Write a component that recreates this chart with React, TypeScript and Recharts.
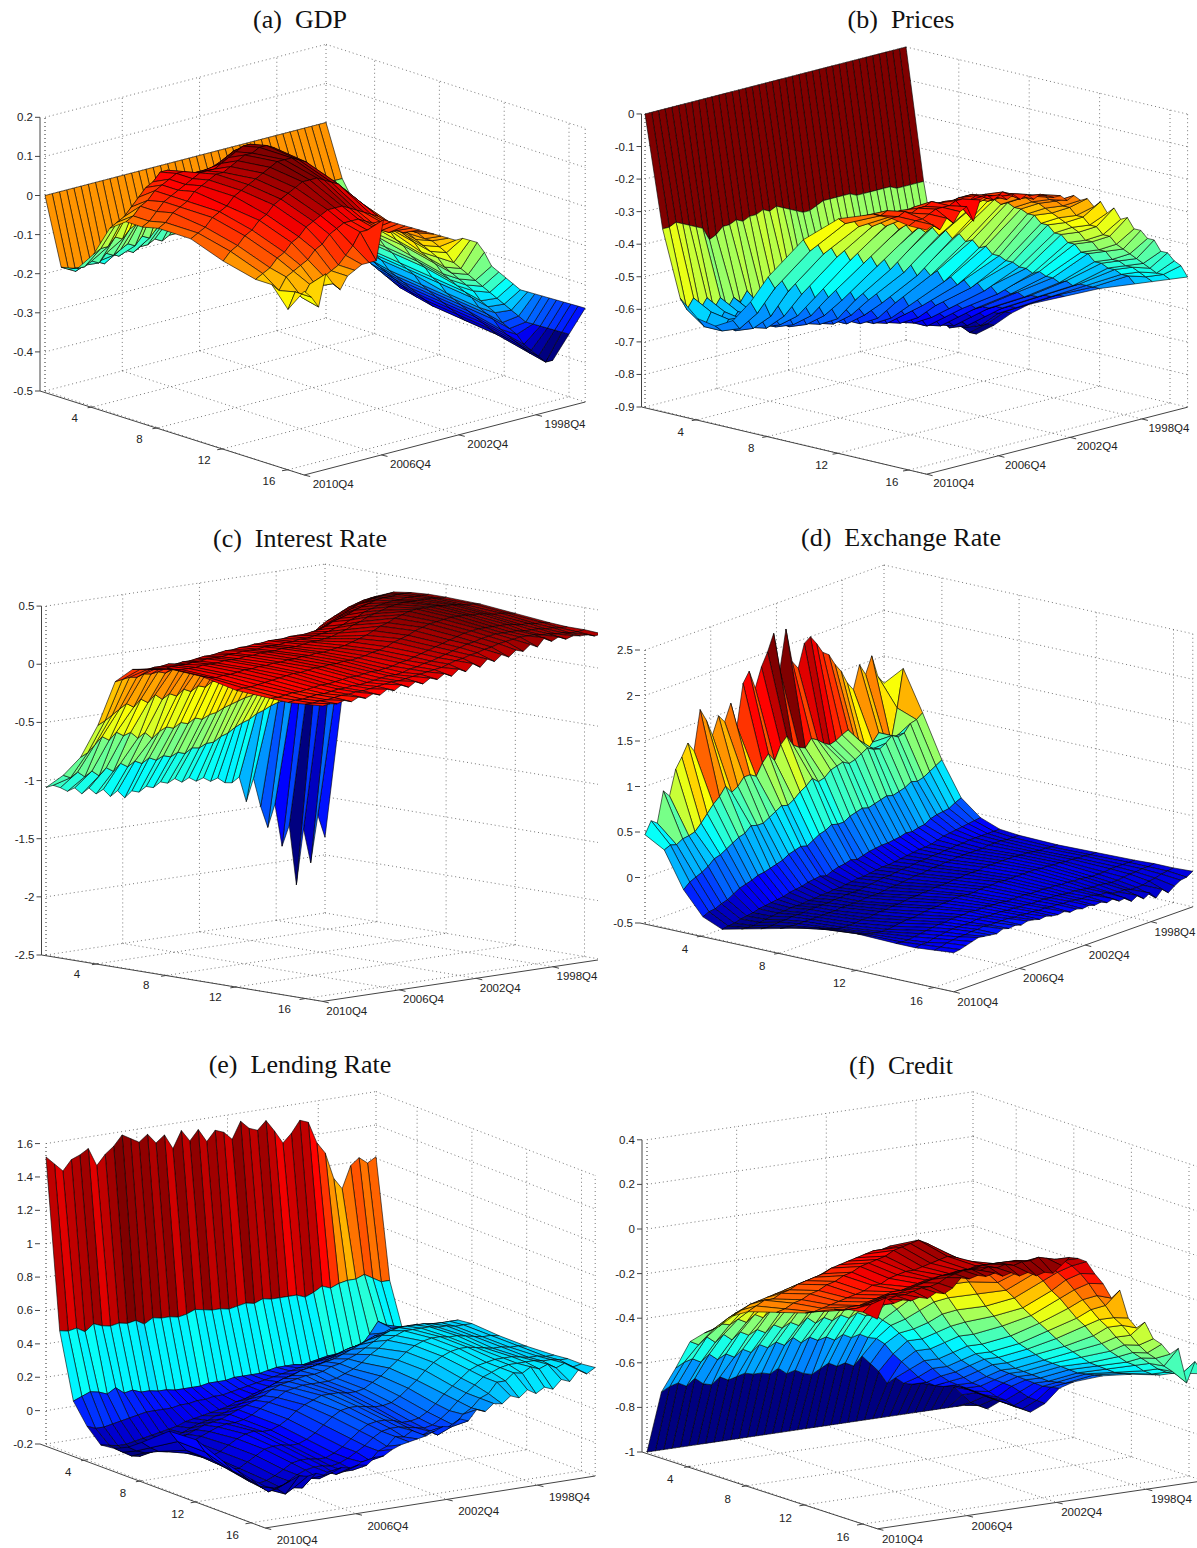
import React from 'react';
import { ScatterChart, Scatter, XAxis, YAxis } from 'recharts';

// horizons kept for each surface, quarters run from 2010Q4 (col 0) back to the oldest (col 39)
const horizons = [1, 2, 3, 4, 5, 6, 7, 8, 10, 12, 14, 15, 16, 17];
const horizonTicks = [4, 8, 12, 16];
const quarterTicks = ['2010Q4', '2006Q4', '2002Q4', '1998Q4'];
const quarterTickPos = [0, 0.275, 0.55, 0.825];
const COLS = 40;

// responses in hundredths, one line per horizon
const gdpZ = [
  [0,0,0,0,0,0,0,0,0,0,0,0,0,0,0,0,0,0,0,0,0,0,0,0,0,0,0,0,0,0,0,0,0,0,0,0,0,0,0,0],
  [-17,-18,-19,-18,-17,-18,-19,-17,-18,-17,-18,-17,-17,-16,-17,-16,-16,-15,-16,-15,-15,-15,-14,-15,-14,-14,-14,-14,-14,-13,-14,-13,-13,-13,-13,-13,-13,-13,-13,-13],
  [-16,-16,-15,-16,-14,-15,-14,-13,-14,-12,-13,-11,-10,-9,-8,-8,-7,-7,-7,-7,-8,-8,-8,-9,-9,-10,-10,-11,-11,-12,-13,-14,-14,-15,-16,-17,-17,-18,-19,-20],
  [-11,-10,-10,-8,-9,-7,-6,-4,-3,-1,0,1,2,2,3,3,3,2,2,1,0,0,-1,-3,-4,-6,-7,-9,-10,-12,-13,-15,-16,-18,-20,-22,-24,-26,-28,-30],
  [-3,-2,-1,1,3,5,6,8,8,6,5,4,4,5,5,6,6,6,5,4,3,2,1,-1,-3,-5,-7,-9,-12,-14,-16,-18,-20,-22,-24,-26,-28,-30,-32,-34],
  [0,1,3,4,6,7,8,9,9,8,8,8,8,9,10,11,11,10,9,8,6,4,2,0,-3,-5,-8,-10,-13,-15,-18,-20,-22,-24,-27,-29,-31,-33,-35,-36],
  [0,1,3,5,6,7,8,9,10,10,10,11,12,13,14,14,13,12,10,8,6,4,1,-1,-4,-6,-9,-11,-14,-17,-19,-21,-24,-26,-28,-30,-32,-34,-36,-37],
  [1,2,4,5,6,8,9,10,11,11,12,13,14,14,15,15,14,12,10,8,5,3,0,-2,-5,-8,-10,-13,-15,-18,-20,-22,-25,-27,-29,-31,-33,-35,-37,-38],
  [1,2,3,5,6,7,9,10,11,12,13,14,15,15,15,14,13,11,9,7,4,2,-1,-4,-6,-9,-11,-14,-16,-19,-21,-23,-26,-28,-30,-32,-34,-36,-38,-39],
  [-2,0,1,3,4,6,7,9,10,11,12,13,13,13,12,11,10,8,6,4,2,0,-3,-5,-8,-10,-13,-15,-17,-20,-22,-25,-27,-29,-31,-33,-35,-37,-39,-40],
  [-4,-3,-2,0,1,3,4,6,7,8,9,9,9,8,7,6,5,4,2,1,-1,-3,-5,-8,-10,-12,-15,-17,-19,-21,-23,-26,-28,-30,-33,-35,-37,-39,-41,-42],
  [-4,-6,-3,-2,-1,0,2,3,5,6,7,7,7,6,5,5,4,3,2,0,-2,-4,-6,-8,-11,-13,-15,-17,-19,-22,-24,-26,-29,-31,-33,-36,-38,-40,-42,-42],
  [-9,-5,-7,-4,-5,-3,-2,-1,1,3,6,6,6,5,4,4,3,3,2,0,-1,-3,-5,-8,-10,-12,-14,-16,-18,-20,-22,-24,-26,-28,-29,-30,-31,-32,-33,-34],
  [-3,-5,-8,0,-3,-5,-2,-1,0,0,0,10,9,8,7,6,5,4,3,2,1,0,0,-1,-2,-5,-9,-11,-13,-15,-17,-18,-19,-20,-21,-22,-23,-24,-25,-26],
];

const pricesZ = [
  [0,0,0,0,0,0,0,0,0,0,0,0,0,0,0,0,0,0,0,0,0,0,0,0,0,0,0,0,0,0,0,0,0,0,0,0,0,0,0,0],
  [-34,-34,-33,-34,-35,-36,-37,-41,-40,-38,-38,-37,-38,-37,-37,-36,-37,-36,-37,-38,-39,-40,-40,-39,-38,-38,-38,-38,-38,-39,-39,-39,-39,-39,-39,-40,-40,-40,-40,-40],
  [-54,-58,-55,-59,-56,-60,-57,-61,-58,-60,-57,-61,-58,-62,-59,-62,-58,-62,-59,-63,-60,-63,-61,-64,-61,-64,-62,-65,-63,-66,-64,-66,-65,-67,-66,-68,-67,-68,-69,-70],
  [-59,-62,-58,-62,-59,-63,-60,-64,-61,-65,-62,-65,-62,-66,-63,-67,-64,-67,-65,-68,-65,-69,-66,-70,-67,-71,-68,-72,-69,-73,-71,-74,-72,-75,-74,-76,-76,-78,-78,-80],
  [-60,-62,-59,-63,-60,-63,-60,-64,-61,-65,-62,-66,-63,-66,-63,-67,-64,-67,-65,-68,-66,-69,-67,-71,-68,-72,-69,-73,-71,-74,-72,-76,-74,-77,-76,-79,-78,-80,-82,-83],
  [-57,-60,-57,-61,-58,-62,-59,-62,-59,-63,-60,-64,-61,-65,-62,-66,-63,-67,-64,-68,-65,-69,-66,-70,-68,-71,-69,-72,-71,-74,-72,-75,-74,-76,-75,-77,-76,-78,-78,-79],
  [-50,-54,-51,-56,-53,-57,-54,-58,-55,-59,-56,-60,-58,-62,-59,-62,-60,-63,-62,-65,-62,-66,-63,-66,-65,-68,-66,-69,-68,-70,-69,-71,-70,-72,-71,-73,-72,-73,-73,-74],
  [-41,-45,-43,-47,-45,-49,-46,-51,-48,-52,-50,-54,-51,-55,-53,-56,-54,-58,-56,-59,-57,-61,-59,-62,-60,-63,-62,-65,-64,-66,-65,-67,-67,-68,-68,-69,-69,-70,-70,-70],
  [-27,-31,-29,-33,-31,-35,-33,-37,-35,-39,-37,-41,-39,-43,-41,-45,-43,-47,-45,-48,-47,-51,-50,-53,-52,-55,-54,-57,-56,-59,-58,-60,-60,-62,-62,-63,-63,-64,-64,-65],
  [-18,-20,-19,-22,-21,-23,-22,-24,-23,-26,-25,-28,-27,-29,-28,-31,-30,-33,-32,-35,-35,-38,-38,-41,-42,-44,-45,-47,-48,-50,-50,-52,-53,-55,-55,-57,-57,-58,-59,-60],
  [-14,-15,-14,-16,-15,-16,-15,-17,-16,-17,-17,-17,-16,-18,-17,-19,-18,-19,-19,-21,-21,-23,-24,-26,-27,-30,-31,-34,-35,-38,-39,-42,-43,-46,-47,-49,-50,-52,-53,-56],
  [-14,-14,-13,-14,-13,-13,-12,-13,-13,-14,-13,-13,-13,-14,-14,-15,-15,-16,-16,-18,-18,-20,-21,-23,-25,-27,-29,-31,-33,-36,-37,-40,-41,-44,-45,-47,-48,-50,-52,-54],
  [-15,-14,-14,-13,-12,-12,-12,-11,-11,-12,-11,-12,-12,-13,-12,-13,-14,-15,-15,-16,-16,-18,-19,-21,-22,-25,-26,-29,-30,-33,-34,-37,-39,-41,-43,-45,-47,-49,-50,-52],
  [-15,-14,-16,-13,-15,-12,-11,-16,-10,-9,-11,-10,-12,-11,-13,-12,-14,-13,-14,-15,-15,-17,-16,-18,-18,-21,-20,-24,-23,-27,-27,-31,-32,-35,-36,-40,-41,-44,-46,-50],
];

const interestZ = [
  [-106,-105,-108,-112,-110,-116,-112,-118,-115,-122,-118,-125,-120,-122,-118,-120,-116,-118,-115,-119,-116,-120,-118,-122,-120,-125,-126,-122,-144,-125,-150,-169,-150,-187,-170,-222,-175,-205,-165,-185],
  [-93,-96,-92,-97,-93,-98,-92,-96,-90,-94,-90,-93,-89,-92,-89,-91,-88,-90,-86,-87,-84,-84,-80,-78,-74,-71,-69,-65,-63,-60,-58,-57,-56,-56,-56,-56,-57,-58,-59,-60],
  [-75,-72,-66,-60,-64,-58,-62,-60,-66,-62,-68,-63,-60,-62,-58,-60,-56,-58,-55,-54,-51,-49,-47,-45,-44,-41,-38,-34,-30,-26,-22,-16,-10,-6,-2,1,4,6,8,10],
  [-45,-42,-38,-34,-30,-34,-28,-32,-26,-31,-27,-30,-25,-28,-24,-26,-22,-23,-20,-19,-18,-16,-15,-13,-12,-10,-8,-5,-2,2,6,11,15,18,21,24,26,28,29,30],
  [-5,-4,-3,-4,-2,-3,-2,-4,-2,-3,-2,-2,-1,-1,0,0,1,1,2,3,3,4,4,5,6,7,8,10,13,15,18,21,24,27,30,31,33,34,35,36],
  [8,7,6,7,7,8,7,8,8,9,10,10,11,12,12,13,13,14,14,15,15,15,16,16,16,17,18,20,23,25,27,30,32,34,36,37,37,38,38,38],
  [11,10,9,10,10,10,11,11,12,12,12,13,13,14,14,14,15,15,15,16,16,17,17,18,19,20,22,24,27,29,32,34,36,37,38,38,39,39,39,39],
  [14,12,11,11,11,12,12,12,13,13,13,14,14,15,15,15,16,16,16,17,18,18,19,20,22,24,27,29,32,34,36,38,39,40,40,40,40,40,39,39],
  [12,10,9,10,10,11,12,12,13,13,14,14,15,15,16,16,17,17,18,19,20,22,24,26,29,32,34,37,39,41,42,42,42,42,41,41,40,39,39,38],
  [5,6,6,7,8,9,10,11,12,12,13,14,14,15,15,16,16,17,18,20,21,23,26,28,30,33,35,37,38,39,40,40,40,39,39,38,37,37,36,35],
  [3,3,4,5,5,6,7,8,8,9,10,11,11,12,13,13,14,15,17,18,20,22,24,26,28,30,32,34,35,36,36,36,36,36,35,34,34,33,33,32],
  [2,3,3,4,5,5,6,7,7,8,8,9,10,11,12,12,13,15,16,18,19,21,23,25,27,29,30,32,33,34,34,34,34,33,33,33,32,32,31,31],
  [3,3,4,4,5,6,6,7,7,8,9,10,11,11,12,13,14,15,16,17,19,21,22,24,25,27,28,30,31,32,33,33,33,32,32,31,31,30,30,31],
  [4,5,4,6,4,7,5,8,6,10,8,12,9,13,10,14,12,16,13,18,15,21,17,23,20,25,22,27,25,30,27,34,30,33,30,32,31,31,29,30],
];

const exchangeZ = [
  [47,60,55,88,80,107,118,131,120,163,149,130,149,140,158,130,175,186,165,186,200,218,175,218,180,170,195,200,190,178,173,160,150,135,125,150,137,155,130,120],
  [35,38,36,40,41,43,50,58,66,72,81,72,76,84,84,80,92,100,90,105,112,100,95,92,100,96,90,86,88,92,95,85,72,64,72,80,70,66,100,141],
  [-4,2,5,8,12,18,20,24,28,32,34,40,38,38,42,46,50,48,52,58,62,68,62,64,70,72,74,70,72,76,80,76,74,78,84,80,82,90,92,97],
  [-29,-26,-25,-22,-20,-16,-12,-10,-8,-5,-4,-2,0,2,6,8,10,8,12,16,18,22,20,20,24,26,28,26,28,30,32,30,32,34,38,36,38,42,46,50],
  [-38,-37,-36,-34,-33,-32,-30,-29,-28,-27,-26,-24,-23,-22,-20,-19,-18,-20,-17,-15,-14,-12,-14,-12,-10,-9,-8,-8,-7,-6,-4,-5,-3,-2,2,4,5,6,10,13],
  [-33,-34,-34,-33,-32,-31,-30,-30,-29,-29,-29,-28,-28,-27,-27,-26,-26,-25,-24,-23,-23,-22,-21,-20,-20,-19,-18,-17,-16,-15,-15,-14,-12,-10,-9,-8,-7,-6,-5,-4],
  [-28,-29,-29,-28,-28,-27,-27,-27,-26,-26,-26,-26,-25,-25,-24,-24,-24,-23,-22,-21,-20,-20,-19,-18,-18,-17,-16,-16,-15,-15,-14,-14,-13,-13,-12,-12,-12,-12,-12,-12],
  [-23,-24,-25,-25,-25,-25,-25,-25,-25,-25,-24,-24,-24,-24,-23,-23,-23,-22,-21,-21,-20,-19,-18,-18,-17,-16,-16,-15,-15,-14,-14,-14,-14,-14,-13,-13,-13,-14,-14,-14],
  [-13,-17,-19,-21,-22,-22,-22,-21,-21,-20,-19,-19,-18,-18,-17,-16,-16,-15,-15,-14,-14,-14,-13,-13,-12,-12,-12,-11,-11,-11,-11,-11,-11,-12,-12,-13,-14,-14,-15,-15],
  [-10,-13,-15,-16,-17,-17,-16,-15,-14,-14,-13,-12,-11,-11,-10,-10,-9,-9,-10,-10,-9,-9,-9,-8,-9,-9,-9,-9,-9,-9,-10,-10,-11,-11,-12,-12,-13,-13,-14,-14],
  [-11,-12,-12,-11,-10,-9,-8,-7,-7,-6,-6,-6,-5,-6,-6,-6,-7,-7,-8,-8,-8,-8,-9,-9,-9,-10,-10,-11,-11,-12,-12,-13,-14,-14,-14,-13,-13,-13,-13,-13],
  [-11,-10,-10,-8,-7,-6,-5,-5,-5,-5,-4,-4,-5,-5,-5,-6,-6,-7,-7,-8,-8,-8,-9,-9,-10,-11,-11,-12,-13,-14,-14,-15,-16,-16,-15,-14,-14,-13,-13,-12],
  [-9,-8,-6,-5,-4,-4,-3,-3,-2,-3,-3,-3,-3,-4,-4,-5,-5,-6,-6,-7,-7,-8,-8,-9,-10,-10,-11,-13,-13,-16,-17,-17,-19,-19,-19,-17,-16,-14,-13,-12],
  [-7,-6,-4,-2,0,-1,-2,-3,0,-2,-1,-3,-1,-2,-4,-3,-5,-6,-5,-8,-7,-9,-8,-10,-9,-12,-10,-15,-14,-20,-16,-22,-18,-26,-19,-25,-20,-16,-15,-11],
];

const lendingZ = [
  [152,147,142,148,150,153,142,148,152,158,155,152,156,150,154,145,155,148,154,146,152,150,145,155,150,148,153,146,138,143,150,148,135,128,112,105,118,122,118,121],
  [51,50,51,48,52,50,49,50,49,50,47,50,49,49,48,49,51,50,49,49,48,49,50,49,51,50,50,50,50,48,50,53,51,53,54,54,56,53,50,50],
  [12,14,16,15,13,16,12,13,11,11,10,10,9,9,9,9,10,10,10,11,11,11,11,12,13,13,13,12,13,14,15,14,15,17,18,24,31,28,24,22],
  [0,-2,-2,-1,0,1,2,3,3,3,3,4,4,5,5,6,6,7,8,9,10,11,12,13,14,15,16,17,18,19,20,22,23,25,27,28,30,30,30,30],
  [-8,-9,-10,-10,-9,-8,-7,-6,-5,-4,-2,-1,0,1,2,3,5,6,8,9,11,13,15,16,18,19,20,22,24,26,27,28,28,29,30,31,32,33,33,33],
  [-7,-10,-13,-14,-12,-9,-7,-6,-4,-2,0,1,3,4,6,8,10,12,15,17,19,20,22,23,24,25,26,28,30,32,34,35,36,37,38,38,38,38,37,37],
  [-3,-6,-8,-8,-7,-5,-3,-1,1,3,4,5,7,9,11,13,15,18,20,21,22,23,23,24,26,27,29,31,34,37,40,42,43,43,43,43,42,42,42,42],
  [3,-1,-4,-5,-5,-3,-1,1,3,5,6,6,7,9,12,15,17,20,21,22,22,22,22,23,25,27,30,34,37,41,43,45,45,45,45,44,44,43,43,43],
  [16,9,3,0,-3,-3,-1,2,5,7,8,7,7,9,12,16,19,21,23,23,23,22,22,23,26,29,33,37,41,44,46,47,47,46,46,45,44,43,43,42],
  [17,9,3,-1,-4,-4,-1,2,5,6,6,5,5,7,10,14,18,21,22,22,21,20,20,21,24,28,32,37,41,44,46,47,47,46,45,44,44,43,43,42],
  [10,4,0,-4,-6,-5,-3,0,3,4,4,3,3,5,8,12,16,19,20,20,19,17,17,18,21,25,30,34,38,42,44,45,46,46,46,45,44,44,43,43],
  [8,3,-1,-5,-7,-6,-3,0,2,3,3,2,3,5,8,11,15,18,19,19,18,17,16,17,20,24,29,33,37,41,43,45,46,46,46,46,45,45,44,44],
  [6,1,-3,-2,-6,-3,-4,1,0,3,1,2,2,6,6,11,13,18,17,20,16,18,15,18,19,25,28,33,35,41,41,45,44,47,45,47,44,46,43,44],
  [5,3,4,6,8,7,8,6,7,9,8,9,8,12,12,15,17,18,19,20,22,24,23,27,25,31,29,33,32,36,34,38,35,38,36,41,39,45,42,45],
];

const creditZ = [
  [-100,-100,-100,-100,-100,-100,-100,-100,-100,-100,-100,-100,-100,-100,-100,-100,-100,-100,-100,-100,-100,-100,-100,-100,-100,-100,-100,-100,-100,-100,-100,-100,-100,-100,-100,-100,-100,-100,-100,-100],
  [-71,-69,-68,-70,-67,-70,-71,-68,-70,-69,-68,-69,-69,-70,-68,-71,-70,-72,-73,-71,-69,-71,-70,-72,-68,-72,-76,-82,-80,-83,-84,-84,-84,-85,-86,-88,-92,-96,-98,-100],
  [-58,-56,-55,-57,-54,-57,-55,-57,-54,-56,-53,-55,-53,-55,-52,-55,-53,-55,-54,-56,-54,-56,-55,-57,-58,-61,-66,-70,-74,-78,-81,-83,-84,-84,-85,-87,-89,-91,-93,-94],
  [-44,-46,-43,-46,-43,-46,-43,-45,-43,-45,-42,-44,-42,-44,-41,-44,-42,-44,-42,-44,-42,-44,-44,-47,-50,-54,-58,-63,-68,-72,-76,-79,-81,-83,-85,-87,-89,-91,-93,-95],
  [-38,-37,-35,-36,-34,-36,-33,-35,-32,-34,-32,-34,-31,-33,-31,-33,-31,-33,-31,-33,-32,-34,-36,-40,-45,-50,-55,-60,-65,-69,-72,-75,-78,-80,-83,-86,-88,-91,-93,-95],
  [-33,-30,-28,-27,-27,-25,-26,-24,-25,-23,-24,-22,-23,-21,-22,-20,-21,-20,-21,-20,-22,-24,-28,-33,-39,-45,-50,-55,-60,-64,-67,-70,-73,-75,-77,-79,-82,-85,-87,-89],
  [-26,-24,-22,-21,-20,-19,-18,-17,-16,-15,-14,-13,-12,-11,-11,-10,-10,-10,-10,-11,-13,-16,-21,-27,-33,-39,-45,-50,-55,-59,-62,-65,-68,-70,-72,-74,-76,-78,-79,-80],
  [-22,-20,-18,-18,-16,-15,-13,-12,-11,-10,-8,-7,-6,-5,-4,-3,-3,-2,-3,-4,-7,-11,-17,-23,-29,-35,-41,-47,-52,-56,-59,-62,-65,-67,-69,-71,-73,-74,-75,-75],
  [-18,-17,-15,-14,-12,-11,-9,-8,-6,-5,-3,-2,-1,0,2,3,4,5,3,0,-3,-7,-12,-17,-23,-29,-34,-39,-44,-48,-51,-54,-57,-59,-61,-63,-65,-66,-67,-68],
  [-14,-14,-13,-12,-11,-10,-9,-8,-6,-6,-4,-3,-2,-2,-1,0,1,2,1,-1,-3,-6,-9,-13,-17,-21,-26,-30,-34,-38,-42,-46,-49,-52,-55,-57,-59,-61,-62,-63],
  [-8,-9,-8,-8,-7,-6,-5,-4,-4,-3,-2,-1,-1,0,0,1,1,2,2,2,1,1,0,-2,-5,-9,-14,-18,-23,-28,-32,-37,-41,-45,-48,-51,-53,-56,-58,-59],
  [-6,-6,-5,-4,-3,-2,-2,-1,0,1,2,3,3,4,4,4,5,5,5,5,5,4,3,2,0,-3,-7,-12,-17,-22,-27,-31,-36,-40,-44,-47,-50,-53,-55,-56],
  [-5,-2,-3,-1,0,0,1,2,2,3,5,6,7,7,6,7,6,7,6,7,7,8,7,6,5,2,-2,-7,-13,-18,-24,-28,-33,-38,-42,-45,-49,-52,-54,-54],
  [-6,3,0,1,0,1,0,2,1,3,7,6,7,6,7,5,6,4,5,3,4,3,6,9,8,6,0,-5,-12,-9,-22,-27,-25,-33,-36,-41,-39,-55,-46,-52],
];

const gdpZTicks = [0.2, 0.1, 0, -0.1, -0.2, -0.3, -0.4, -0.5];
const pricesZTicks = [0, -0.1, -0.2, -0.3, -0.4, -0.5, -0.6, -0.7, -0.8, -0.9];
const interestZTicks = [0.5, 0, -0.5, -1, -1.5, -2, -2.5];
const exchangeZTicks = [2.5, 2, 1.5, 1, 0.5, 0, -0.5];
const lendingZTicks = [1.6, 1.4, 1.2, 1, 0.8, 0.6, 0.4, 0.2, 0, -0.2];
const creditZTicks = [0.4, 0.2, 0, -0.2, -0.4, -0.6, -0.8, -1];

const panels = [
  { title: '(a)  GDP', cx: 300, cy: 20, box: [0, 30, 598, 490], rows: gdpZ, zTicks: gdpZTicks, L: [45, 391], hv: [16.2, 5.25], tv: [281, -73], k: 391, axisX: 40, solidZ: true, hOff: [-19, 11], tOff: [29, 9] },
  { title: '(b)  Prices', cx: 901, cy: 20, box: [598, 30, 599, 490], rows: pricesZ, zTicks: pricesZTicks, L: [645, 407], hv: [17.6, 4.2], tv: [261, -67], k: 325.6, axisX: 641.5, solidZ: true, hOff: [-17, 12], tOff: [27, 9] },
  { title: '(c)  Interest Rate', cx: 300, cy: 539, box: [0, 550, 598, 480], rows: interestZ, zTicks: interestZTicks, L: [46, 955], hv: [17.3, 2.9], tv: [279, -42], k: 116.3, axisX: 41.5, solidZ: true, hOff: [-21, 10], tOff: [24, 9.5] },
  { title: '(d)  Exchange Rate', cx: 901, cy: 538, box: [598, 550, 599, 480], rows: exchangeZ, zTicks: exchangeZTicks, L: [645, 923], hv: [19.3, 4.3], tv: [239, -85], k: 91, axisX: 640, solidZ: false, hOff: [-18, 13], tOff: [24, 10] },
  { title: '(e)  Lending Rate', cx: 300, cy: 1065, box: [0, 1080, 598, 468], rows: lendingZ, zTicks: lendingZTicks, L: [46, 1444], hv: [13.7, 5.25], tv: [330, -52], k: 166.9, axisX: 40, solidZ: false, hOff: [-19, 12], tOff: [32, 12] },
  { title: '(f)  Credit', cx: 901, cy: 1066, box: [598, 1080, 599, 468], rows: creditZ, zTicks: creditZTicks, L: [647, 1452], hv: [14.4, 4.8], tv: [326, -48], k: 223, axisX: 642, solidZ: true, hOff: [-20, 13], tOff: [25, 10] },
];

// matlab jet, 64 steps
function jet(v: number) {
  const t = Math.round(Math.max(0, Math.min(1, v)) * 63) / 63;
  const ch = (c: number) => Math.round(255 * Math.max(0, Math.min(1, 1.5 - Math.abs(4 * t - c))));
  return `rgb(${ch(3)},${ch(2)},${ch(1)})`;
}

const Nothing = () => <g />;

function Segments(style: any) {
  return (props: any) => {
    const pts = props.points || [];
    const parts: string[] = [];
    for (let i = 0; i + 1 < pts.length; i += 2) {
      parts.push(`M${pts[i].x},${pts[i].y}L${pts[i + 1].x},${pts[i + 1].y}`);
    }
    return <path d={parts.join('')} fill="none" {...style} />;
  };
}

function TextMark(props: any) {
  const { cx, cy, payload } = props;
  return (
    <text x={cx} y={cy} textAnchor={payload.anchor} dominantBaseline="central" fontFamily="'Liberation Sans', Arial, sans-serif" fontSize={11.5} fill="#222">
      {payload.label}
    </text>
  );
}

function SurfacePanel({ panel }: { panel: any }) {
  const { rows, zTicks, L, hv, tv, k, axisX, solidZ, hOff, tOff, box } = panel;
  const zMin = zTicks[zTicks.length - 1];
  const zMax = zTicks[0];
  const project = (h: number, frac: number, z: number) => ({
    x: L[0] + (h - 1) * hv[0] + frac * tv[0],
    y: L[1] + (h - 1) * hv[1] + frac * tv[1] - k * (z - zMin),
  });

  // one vertex per cell of the table, in table order
  const vertices: { x: number; y: number }[] = [];
  const rowStart: number[] = [];
  rows.forEach((row: number[], i: number) => {
    rowStart.push(vertices.length);
    row.forEach((v, j) => vertices.push(project(horizons[i], j / (COLS - 1), v / 100)));
  });
  const flat = rows.flat();
  const cMin = Math.min(...flat);
  const cMax = Math.max(...flat);

  const drawSurface = (props: any) => {
    const pts = props.points || [];
    const faces: React.ReactElement[] = [];
    // far to near: low horizon first, oldest quarter first
    for (let i = 0; i < rows.length - 1; i++) {
      for (let j = COLS - 2; j >= 0; j--) {
        if (j + 1 >= rows[i].length || j + 1 >= rows[i + 1].length) continue;
        const a = pts[rowStart[i] + j];
        const b = pts[rowStart[i] + j + 1];
        const c = pts[rowStart[i + 1] + j + 1];
        const d = pts[rowStart[i + 1] + j];
        const fill = jet((rows[i][j + 1] - cMin) / (cMax - cMin));
        faces.push(
          <polygon key={`${i}-${j}`} points={`${a.x},${a.y} ${b.x},${b.y} ${c.x},${c.y} ${d.x},${d.y}`} fill={fill} stroke="#000" strokeWidth={0.6} strokeLinejoin="round" />
        );
      }
    }
    return <g>{faces}</g>;
  };

  const grid: { x: number; y: number }[] = [];
  const seg = (p: any, q: any) => grid.push(p, q);
  zTicks.forEach((z: number) => {
    seg(project(1, 0, z), project(1, 1, z));
    seg(project(1, 1, z), project(17, 1, z));
  });
  quarterTickPos.forEach((f) => {
    seg(project(1, f, zMin), project(1, f, zMax));
    seg(project(1, f, zMin), project(17, f, zMin));
  });
  horizonTicks.forEach((h) => {
    seg(project(h, 1, zMin), project(h, 1, zMax));
    seg(project(h, 0, zMin), project(h, 1, zMin));
  });
  seg(project(1, 0, zMin), project(1, 0, zMax));
  seg(project(1, 1, zMin), project(1, 1, zMax));
  seg(project(17, 1, zMin), project(17, 1, zMax));

  const axes: { x: number; y: number }[] = [];
  const axisSeg = (p: any, q: any) => axes.push(p, q);
  const bottom = project(1, 0, zMin);
  const corner = { x: axisX, y: bottom.y };
  axisSeg(corner, project(17, 0, zMin));
  axisSeg(project(17, 0, zMin), project(17, 1, zMin));
  if (solidZ) axisSeg(corner, { x: axisX, y: project(1, 0, zMax).y });

  const labels: { x: number; y: number; label: string; anchor: string }[] = [];
  zTicks.forEach((z: number) => {
    const y = project(1, 0, z).y;
    axisSeg({ x: axisX - 5, y }, { x: axisX, y });
    labels.push({ x: axisX - 7, y, label: String(z), anchor: 'end' });
  });
  horizonTicks.forEach((h) => {
    const p = project(h, 0, zMin);
    axisSeg(p, { x: p.x - 6, y: p.y + 1 });
    labels.push({ x: p.x + hOff[0], y: p.y + hOff[1], label: String(h), anchor: 'middle' });
  });
  quarterTicks.forEach((q, n) => {
    const p = project(17, quarterTickPos[n], zMin);
    axisSeg(p, { x: p.x + 6, y: p.y + 1.5 });
    labels.push({ x: p.x + tOff[0], y: p.y + tOff[1], label: q, anchor: 'middle' });
  });

  return (
    <div style={{ position: 'absolute', left: box[0], top: box[1] }}>
      <ScatterChart width={box[2]} height={box[3]} margin={{ top: 0, right: 0, bottom: 0, left: 0 }}>
        <XAxis type="number" dataKey="x" domain={[box[0], box[0] + box[2]]} hide allowDataOverflow />
        <YAxis type="number" dataKey="y" domain={[box[1], box[1] + box[3]]} reversed hide allowDataOverflow />
        <Scatter data={grid} shape={Nothing} line={Segments({ stroke: '#555', strokeWidth: 0.8, strokeDasharray: '1 3' })} isAnimationActive={false} />
        <Scatter data={axes} shape={Nothing} line={Segments({ stroke: '#444', strokeWidth: 1 })} isAnimationActive={false} />
        <Scatter data={vertices} shape={Nothing} line={drawSurface} isAnimationActive={false} />
        <Scatter data={labels} shape={TextMark} isAnimationActive={false} />
      </ScatterChart>
    </div>
  );
}

export default function App() {
  return (
    <div style={{ position: 'absolute', left: 0, top: 0, width: 1197, height: 1548, background: '#fff', overflow: 'hidden' }}>
      {panels.map((p) => (
        <React.Fragment key={p.title}>
          <div style={{ position: 'absolute', left: p.cx - 200, width: 400, top: p.cy - 16, height: 32, lineHeight: '32px', textAlign: 'center', whiteSpace: 'pre', fontFamily: "'Liberation Serif', 'Times New Roman', serif", fontSize: 26, color: '#111' }}>
            {p.title}
          </div>
          <SurfacePanel panel={p} />
        </React.Fragment>
      ))}
    </div>
  );
}
